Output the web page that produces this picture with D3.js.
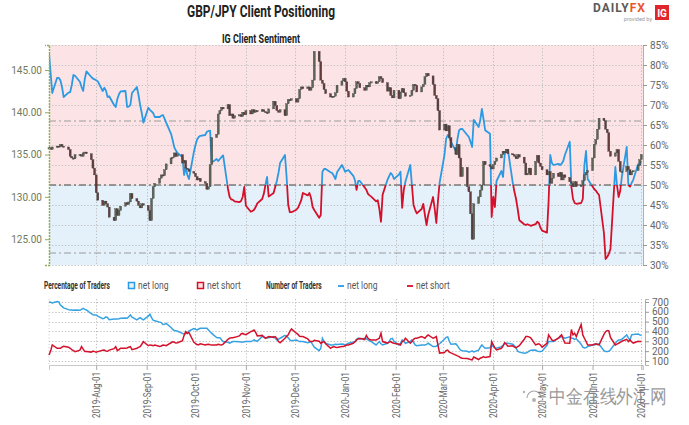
<!DOCTYPE html>
<html><head><meta charset="utf-8">
<script src="https://cdn.jsdelivr.net/npm/d3@7"></script>
<style>body{margin:0;background:#fff}svg{display:block}text{font-family:"Liberation Sans Narrow","Roboto","Liberation Sans",sans-serif}</style>
</head><body>
<svg id="c" width="689" height="425"></svg>
<script>
// ---------- DATA (one value per weekday, 2019-07-03 .. 2020-07-01) ----------
const priceClose = [
135.8,135.6,135.9,
136.0,135.9,136.2,136.0,135.9,
135.6,134.8,134.6,134.5,135.0,
135.0,134.8,135.2,135.3,135.1,
134.4,133.4,132.6,130.5,129.6,
129.0,129.5,129.2,128.8,127.6,
127.2,128.6,127.8,128.4,128.9,
129.3,129.1,129.4,130.4,129.8,
129.5,129.0,128.7,129.2,129.0,
128.4,127.2,129.8,131.2,131.6,
132.2,132.6,132.5,133.2,133.9,
134.6,134.7,135.2,134.8,135.0,
134.0,134.3,133.4,133.3,133.0,
132.8,132.4,132.0,132.2,131.8,
131.6,130.9,131.2,133.8,137.0,
137.4,139.8,140.2,140.6,140.4,
140.9,139.6,139.8,139.3,139.6,
139.7,139.5,140.0,139.7,140.2,
139.8,140.3,140.0,140.2,140.1,
140.3,140.1,140.0,139.9,140.4,
141.3,140.8,140.2,140.0,140.3,
139.6,141.0,141.5,141.4,141.6,
141.2,141.6,142.7,143.0,142.8,
143.0,142.6,142.9,143.8,147.2,
146.0,143.8,143.4,142.7,142.2,
141.8,141.9,141.9,142.3,143.2,
143.7,144.0,143.6,142.5,141.8,
142.2,142.8,143.6,143.4,142.9,
142.6,143.2,143.0,143.5,143.6,
143.4,143.6,144.2,144.0,143.5,
142.5,142.9,142.0,141.7,142.6,
141.6,142.4,142.8,142.3,141.9,
142.0,142.6,143.3,143.2,142.4,
143.0,143.3,144.2,144.6,144.3,
143.3,142.0,141.6,140.2,137.9,
138.6,137.8,138.4,137.0,135.8,
135.0,136.2,134.6,132.4,133.5,
131.2,130.6,128.0,125.0,129.2,
130.0,130.8,131.4,134.2,133.8,
133.6,133.3,133.8,134.2,134.6,
135.0,135.4,135.2,135.6,135.1,
135.0,134.8,134.5,135.0,134.7,
134.0,132.6,132.8,133.4,132.6,
134.2,134.9,134.0,133.6,133.2,
132.6,133.0,131.6,132.2,132.8,
132.4,132.9,132.0,132.6,132.3,
131.8,131.6,131.2,131.8,131.2,
131.4,131.9,132.6,132.9,133.1,
134.6,136.2,136.8,138.0,139.3,
139.0,138.0,137.6,135.4,134.8,
135.2,135.6,134.2,133.0,133.0,
133.6,133.2,132.6,133.0,133.1,
133.7,134.4,135.0
];
const pctLong = [
82.9,78,73,
76.8,76.8,76.2,74.5,72,
73.1,73.2,75,77.5,77.3,
75.8,74.5,73.5,76.5,78.4,
77,76.6,76.4,76.2,75.9,
73.5,74.3,73.6,72,72.2,
70,69.5,71.5,72.7,73.4,
73.5,69.5,69.6,70,73,
74.5,72.5,70,68,65.6,
69.3,68.8,68.4,68,67,
67,67.3,67.5,66.6,65.6,
62.8,61.2,59.4,58.6,58,
57,52.5,54.4,52.5,51.5,
58.2,60,61.4,62,62.3,
62.5,63.3,63.5,63.6,55.6,
56.5,56,56.5,57,57.4,
49,47,46.4,46.3,45.9,
45.7,46,47,49.5,44.8,
43.3,43.5,43.8,44.5,45.4,
46.5,47.8,50,52,47.1,
48,49.5,51,53,55.5,
57.5,52,45,43.2,43.2,
43.8,44.3,45.2,46.2,48,
47.4,48,46.8,44.5,43.75,
41.8,42.5,53.3,54,54,
53.2,53,52.3,51.5,53.2,
55,54.2,53.3,53.6,53.7,
52.3,51.2,48.8,51,51,
49.4,48.8,47.8,47.4,47.1,
45.9,46.2,44,40.8,47.6,
51.3,52.2,53,52.5,51.5,
52.6,53.3,44.3,48.8,50.8,
55,50,45,43.8,42.9,
44,45.3,42.5,40,42.5,
47,44,40.5,46,50.5,
57.5,61.5,62.5,61.8,60.8,
58.5,61.5,63.7,64,64,
62.5,62,60.8,59.5,66.3,
64.5,66.2,69,66.5,63.7,
62.8,42,47,44.5,51,
53.5,52,57.5,58.8,58.8,
50.5,48.3,46.5,44,41.2,
40.2,40,40.2,40,39.8,
40.2,40.8,40.5,39.3,38.6,
38.1,46,57.5,55.5,55,
55.3,55,55.3,56,57.5,
60.8,49.5,46.5,45.5,45.3,
45.5,46.5,55,58.5,51.5,
49.6,49,48.6,48,47.5,
38,31.5,32,32.8,34,
54.5,50,47,48.5,52,
59.5,50,49.6,50.5,51.3,
55.2,55,56
];
const numLong = [
700,697,690,
705,700,669,655,640,
622,618,618,615,618,
615,625,635,625,618,
580,570,568,568,555,
530,535,548,540,520,
527,527,527,530,534,
536,534,550,568,545,
517,530,540,528,517,
555,575,540,515,508,
495,490,470,472,482,
440,420,410,407,402,
380,372,378,385,405,
430,422,415,425,432,
432,432,415,398,380,
338,337,337,315,297,
290,282,290,297,297,
295,292,290,295,297,
297,305,314,305,300,
348,345,335,333,337,
348,330,314,320,331,
360,350,335,314,305,
314,305,297,297,297,
285,290,297,265,240,
205,229,331,300,280,
263,263,265,270,268,
272,270,263,272,280,
292,297,320,331,322,
330,325,314,305,297,
263,280,297,275,263,
280,297,325,330,300,
263,280,314,300,280,
297,314,290,263,255,
263,263,263,268,280,
246,246,250,263,275,
320,340,345,300,270,
275,255,229,210,205,
200,189,195,202,192,
210,240,263,245,229,
235,263,245,235,229,
246,260,280,280,280,
270,255,230,200,190,
179,180,188,200,210,
212,200,195,195,200,
260,297,297,297,297,
331,340,348,340,331,
345,331,330,320,325,
270,240,232,237,246,
263,263,268,275,270,
205,195,195,198,215,
280,300,314,314,320,
365,335,314,365,370,
375,365,358
];
const numShort = [
160,200,263,
229,229,229,240,250,
240,229,215,205,195,
210,246,220,195,195,
190,200,195,189,195,
208,212,200,198,210,
225,246,205,215,229,
229,232,240,246,215,
229,238,246,270,297,
255,263,260,256,262,
248,252,262,260,256,
285,295,290,282,285,
305,360,398,380,390,
290,280,265,265,275,
263,268,270,265,263,
263,270,265,263,272,
320,331,337,337,340,
355,375,380,372,368,
398,405,415,390,355,
360,345,331,340,348,
340,348,330,297,285,
330,350,365,400,425,
382,370,350,348,348,
325,305,297,297,310,
300,280,290,297,275,
229,240,246,240,238,
246,246,255,262,263,
280,295,314,325,331,
318,360,331,318,314,
314,322,331,382,297,
282,292,297,285,280,
270,263,297,305,331,
280,297,320,331,331,
348,340,331,350,365,
331,338,348,260,180,
185,205,210,190,182,
160,152,145,132,128,
125,121,115,111,140,
115,128,135,145,135,
145,297,263,230,212,
229,250,285,270,250,
255,240,235,245,255,
320,348,348,345,335,
263,270,275,262,240,
280,365,340,314,305,
331,350,365,320,282,
280,420,365,382,348,
470,365,331,300,263,
263,270,275,268,263,
370,398,410,405,340,
263,272,280,290,300,
320,297,314,295,282,
300,297,297
];
const priceTicks = [125, 130, 135, 140, 145];
const pctTicks = [30, 35, 40, 45, 50, 55, 60, 65, 70, 75, 80, 85];
const countTicks = [100, 200, 300, 400, 500, 600, 700];
const refLevels = [66, 50, 33];
const monthTicks = ["2019-08-01","2019-09-01","2019-10-01","2019-11-01","2019-12-01","2020-01-01",
                    "2020-02-01","2020-03-01","2020-04-01","2020-05-01","2020-06-01","2020-07-01"];

// ---------- BUILD ----------
const parse = d3.timeParse("%Y-%m-%d");
const days = d3.timeDay.range(parse("2019-07-03"), parse("2020-07-02")).filter(d => d.getDay() % 6 !== 0);
const rows = days.map((d, i) => ({
  date: d, close: priceClose[i], open: i ? priceClose[i - 1] : priceClose[i],
  pct: pctLong[i], nl: numLong[i], ns: numShort[i]
}));
const months = monthTicks.map(parse);

const svg = d3.select("#c");
const L = 49, R = 643, T = 45, B = 265, T2 = 299, B2 = 365;
const x = d3.scaleTime().domain([parse("2019-07-03"), parse("2020-07-02")]).range([L, R]);
const yP = d3.scaleLinear().domain([121.95, 147.95]).range([B, T]);
const yS = d3.scaleLinear().domain([30, 85]).range([B, T]);
const yN = d3.scaleLinear().domain([59, 730]).range([B2, T2]);

// backgrounds
svg.append("rect").attr("x", L).attr("y", yS(85)).attr("width", R - L).attr("height", yS(50) - yS(85)).attr("fill", "#fce4e6");
svg.append("rect").attr("x", L).attr("y", yS(50)).attr("width", R - L).attr("height", yS(30) - yS(50)).attr("fill", "#e4f1fb");

// grids
const grid = svg.append("g").attr("stroke", "#bdbdbd").attr("stroke-width", 1).attr("stroke-dasharray", "1.2,2");
grid.selectAll(".h").data(pctTicks).join("line").attr("x1", L).attr("x2", R).attr("y1", d => yS(d) + .5).attr("y2", d => yS(d) + .5);
grid.selectAll(".h2").data(countTicks).join("line").attr("x1", L).attr("x2", R).attr("y1", d => Math.round(yN(d)) + .5).attr("y2", d => Math.round(yN(d)) + .5);
grid.selectAll(".v").data(months).join("line").attr("x1", d => Math.round(x(d)) + .5).attr("x2", d => Math.round(x(d)) + .5).attr("y1", T).attr("y2", B);
grid.selectAll(".v2").data(months).join("line").attr("x1", d => Math.round(x(d)) + .5).attr("x2", d => Math.round(x(d)) + .5).attr("y1", T2).attr("y2", B2);
svg.append("line").attr("x1", L).attr("x2", L).attr("y1", T2).attr("y2", B2).attr("stroke", "#cfcfcf").attr("stroke-dasharray", "1.2,2");

// reference dash-dot lines
svg.selectAll(".ref").data(refLevels).join("line")
  .attr("x1", L).attr("x2", R).attr("y1", d => yS(d)).attr("y2", d => yS(d))
  .attr("stroke", d => d === 50 ? "#7a7a7a" : "#9a9a9a")
  .attr("stroke-width", d => d === 50 ? 1.6 : 1.2)
  .attr("stroke-dasharray", "7,3,2,3");

// sentiment line, blue above 50 %, red below
const defs = svg.append("defs");
defs.append("clipPath").attr("id", "up").append("rect").attr("x", L).attr("y", T - 5).attr("width", R - L + 2).attr("height", yS(50) - T + 5);
defs.append("clipPath").attr("id", "dn").append("rect").attr("x", L).attr("y", yS(50)).attr("width", R - L + 2).attr("height", B - yS(50) + 5);
const sLine = d3.line().x(d => x(d.date)).y(d => yS(d.pct));
svg.append("path").datum(rows).attr("d", sLine).attr("fill", "none").attr("stroke", "#2b9ae2").attr("stroke-width", 1.8).attr("stroke-linejoin", "round").attr("clip-path", "url(#up)");
svg.append("path").datum(rows).attr("d", sLine).attr("fill", "none").attr("stroke", "#d4102a").attr("stroke-width", 1.8).attr("stroke-linejoin", "round").attr("clip-path", "url(#dn)");

// candles
svg.append("g").selectAll("rect").data(rows).join("rect")
  .attr("x", d => x(d.date) - 1).attr("width", 2)
  .attr("y", d => yP(Math.max(d.open, d.close)))
  .attr("height", d => Math.max(1.2, Math.abs(yP(d.open) - yP(d.close))))
  .attr("fill", d => d.close >= d.open ? "#5d6656" : "#643c3c")
  .attr("stroke", "#3a3a3a").attr("stroke-width", 0.35);

// lower panel lines
const nl = d3.line().x(d => x(d.date)).y(d => yN(d.nl));
const ns = d3.line().x(d => x(d.date)).y(d => yN(d.ns));
svg.append("path").datum(rows).attr("d", nl).attr("fill", "none").attr("stroke", "#36a2e3").attr("stroke-width", 1.5);
svg.append("path").datum(rows).attr("d", ns).attr("fill", "none").attr("stroke", "#d4102a").attr("stroke-width", 1.5);

// axes
const fs = "10px";
const aL = svg.append("g").attr("transform", `translate(${L},0)`)
  .call(d3.axisLeft(yP).tickValues(priceTicks).tickFormat(d3.format(".2f")).tickSize(4).tickPadding(3));
aL.select(".domain").attr("stroke", "#8fae5a").attr("stroke-width", 1.5).attr("stroke-dasharray", "2,1");
aL.selectAll(".tick line").attr("stroke", "#8fae5a");
aL.selectAll("text").attr("fill", "#6f7a5c").style("font-size", fs);

const aR = svg.append("g").attr("transform", `translate(${R},0)`)
  .call(d3.axisRight(yS).tickValues(pctTicks).tickFormat(d => d + "%").tickSize(4).tickPadding(3));
aR.select(".domain").attr("stroke", "#b0b0b0");
aR.selectAll(".tick line").attr("stroke", "#999");
aR.selectAll("text").attr("fill", "#666").style("font-size", fs);

const aR2 = svg.append("g").attr("transform", `translate(${R + 2},0)`)
  .call(d3.axisRight(yN).tickValues(countTicks).tickSize(4).tickPadding(3));
aR2.select(".domain").attr("stroke", "#b0b0b0");
aR2.selectAll(".tick line").attr("stroke", "#999");
aR2.selectAll("text").attr("fill", "#666").style("font-size", fs);

const fmt = d3.timeFormat("%Y-%b-%d");
const aB = svg.append("g").attr("transform", `translate(0,${B2})`)
  .call(d3.axisBottom(x).tickValues(months).tickFormat(fmt).tickSize(5));
aB.select(".domain").attr("stroke", "#c8c8c8");
aB.selectAll(".tick line").attr("stroke", "#aaa");
aB.selectAll("text").attr("fill", "#666").style("font-size", fs)
  .attr("transform", "rotate(-90)").attr("text-anchor", "end").attr("x", -7).attr("y", 0).attr("dy", "0.35em")
  .attr("textLength", 46).attr("lengthAdjust", "spacingAndGlyphs");

// titles
svg.append("text").attr("x", 261).attr("y", 17).attr("text-anchor", "middle").attr("font-weight", "bold")
  .attr("font-size", 17).attr("fill", "#222").attr("textLength", 148).attr("lengthAdjust", "spacingAndGlyphs")
  .text("GBP/JPY Client Positioning");
svg.append("text").attr("x", 261).attr("y", 43).attr("text-anchor", "middle").attr("font-weight", "bold")
  .attr("font-size", 12.5).attr("fill", "#222").attr("textLength", 78).attr("lengthAdjust", "spacingAndGlyphs")
  .text("IG Client Sentiment");

// legend
const lg = svg.append("g").attr("font-size", 10);
lg.append("text").attr("transform", "translate(44,289) scale(0.66,1)").attr("font-weight", "bold").attr("fill", "#333").text("Percentage of Traders");
lg.append("rect").attr("x", 128.5).attr("y", 282.5).attr("width", 6).attr("height", 6).attr("fill", "#e4f1fb").attr("stroke", "#2b9ae2").attr("stroke-width", 1.5);
lg.append("text").attr("transform", "translate(138,289) scale(0.85,1)").attr("fill", "#555").text("net long");
lg.append("rect").attr("x", 197.5).attr("y", 282.5).attr("width", 6).attr("height", 6).attr("fill", "#fce4e6").attr("stroke", "#d4102a").attr("stroke-width", 1.5);
lg.append("text").attr("transform", "translate(207,289) scale(0.85,1)").attr("fill", "#555").text("net short");
lg.append("text").attr("transform", "translate(266,289) scale(0.66,1)").attr("font-weight", "bold").attr("fill", "#333").text("Number of Traders");
lg.append("line").attr("x1", 338).attr("x2", 344).attr("y1", 286).attr("y2", 286).attr("stroke", "#2b9ae2").attr("stroke-width", 1.8);
lg.append("text").attr("transform", "translate(347,289) scale(0.85,1)").attr("fill", "#555").text("net long");
lg.append("line").attr("x1", 407).attr("x2", 413).attr("y1", 286).attr("y2", 286).attr("stroke", "#d4102a").attr("stroke-width", 1.8);
lg.append("text").attr("transform", "translate(416,289) scale(0.85,1)").attr("fill", "#555").text("net short");

// logo
const lo = svg.append("g");
lo.append("text").attr("x", 593).attr("y", 12).attr("font-size", 12).attr("font-weight", "bold").attr("letter-spacing", 1)
  .attr("font-family", "Roboto, sans-serif")
  .html('<tspan fill="#5a5a5a">DAILY</tspan><tspan fill="#e8562a">FX</tspan>');
lo.append("text").attr("x", 652).attr("y", 20.5).attr("text-anchor", "end").attr("font-size", 5.5).attr("fill", "#999").text("provided by");
lo.append("rect").attr("x", 655).attr("y", 5).attr("width", 14).attr("height", 15).attr("fill", "#e0262b");
lo.append("text").attr("x", 662).attr("y", 17).attr("text-anchor", "middle").attr("font-size", 10).attr("font-weight", "bold").attr("fill", "#fff").attr("font-family", "Roboto, sans-serif").text("IG");

// watermark
const wm = svg.append("g").attr("opacity", 0.75);
wm.append("path").attr("d", "M527,398 a7,7 0 0 1 14,0").attr("fill", "none").attr("stroke", "#888").attr("stroke-width", 1.2);
wm.append("circle").attr("cx", 534).attr("cy", 400).attr("r", 2).attr("fill", "#999");
wm.append("circle").attr("cx", 524).attr("cy", 392).attr("r", 1.2).attr("fill", "#999");
wm.append("circle").attr("cx", 544).attr("cy", 404).attr("r", 1.2).attr("fill", "#999");
wm.append("text").attr("x", 549).attr("y", 403).attr("font-size", 19).attr("fill", "#777")
  .attr("font-family", "'Noto Sans CJK SC', sans-serif").attr("textLength", 118).attr("lengthAdjust", "spacingAndGlyphs")
  .text("中金在线外汇网");
</script>
</body></html>
